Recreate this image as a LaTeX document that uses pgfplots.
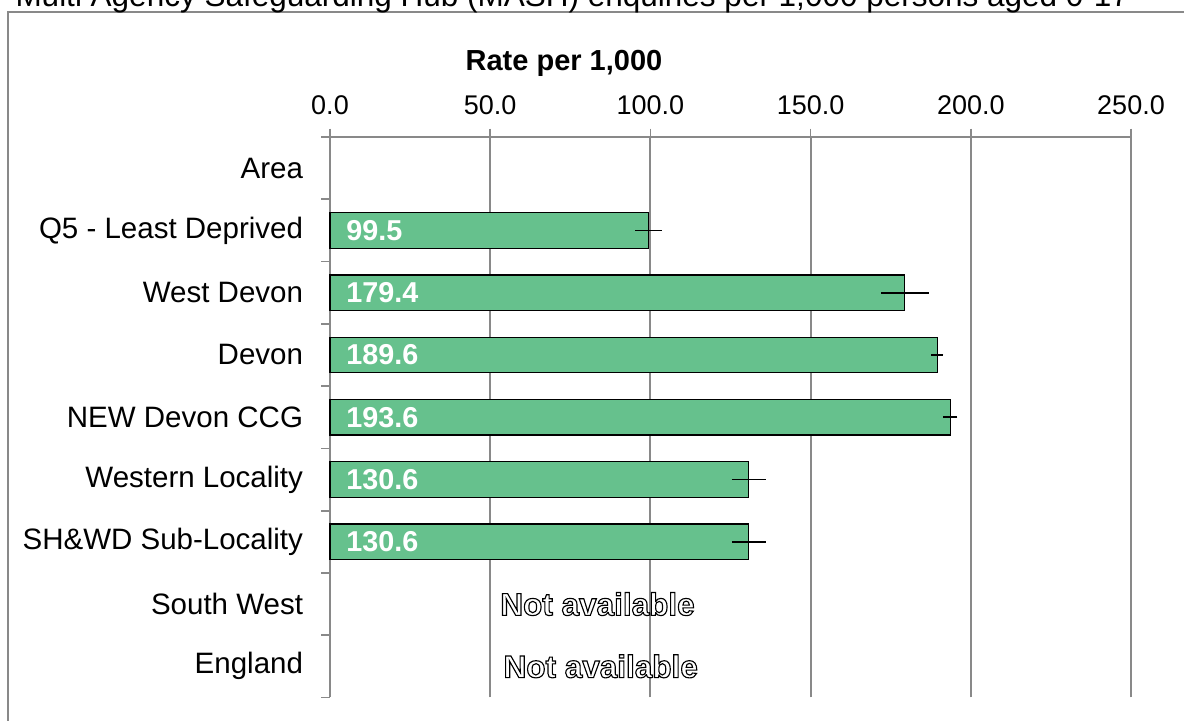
\documentclass[border=0pt]{standalone}
\usepackage{fontspec}
\setmainfont{Liberation Sans}
\usepackage{pgfplots}
\pgfplotsset{compat=1.18}
\usepackage{pgfplotstable}
\definecolor{bargreen}{RGB}{102,193,141}
\definecolor{axgray}{RGB}{137,137,137}
\def\s{0.4pt}
% outlined text: white fill, black stroke
\newcommand{\outl}[1]{\special{pdf:literal direct 0 0 0 RG 0.45 w 2 Tr}#1\special{pdf:literal direct 0 Tr}}

\pgfplotstableread{
idx val minus plus zero lab
7 99.5 4.3 4.1 0 99.5
6 179.4 7.4 7.6 0 179.4
5 189.6 2.0 1.8 0 189.6
4 193.6 2.2 2.2 0 193.6
3 130.6 5.2 5.4 0 130.6
2 130.6 5.2 5.4 0 130.6
}\rates

\begin{document}
\begin{tikzpicture}
\draw[axgray, line width=0.8pt] (8*\s,-12*\s) rectangle (1250*\s,-780*\s);
\node[anchor=base west, inner sep=0, font=\fontsize{12.6}{14}\selectfont] at (15*\s,-6*\s)
  {Multi Agency Safeguarding Hub (MASH) enquiries per 1,000 persons aged 0-17};
\node[anchor=base, inner sep=0, font=\fontsize{11.6}{13}\selectfont\bfseries] at (564*\s,-70*\s) {Rate per 1,000};
\begin{axis}[
  at={(330*\s,-137*\s)}, anchor=north west,
  scale only axis, width=801*\s, height=560.5*\s,
  xmin=0, xmax=250, ymin=-0.5, ymax=8.5,
  axis x line*=top, axis y line*=left,
  axis line style={axgray, line width=0.7pt, -},
  xtick={0,50,...,250},
  xmajorgrids, grid style={axgray, line width=0.8pt},
  tick align=outside, major tick length=8.5*\s,
  tick style={axgray, line width=0.7pt},
  ytick={-0.5,0.5,...,8.5},
  y tick label as interval,
  yticklabels={England,South West,SH\&WD Sub-Locality,Western Locality,NEW Devon CCG,Devon,West Devon,Q5 - Least Deprived,Area},
  yticklabel style={font=\fontsize{11.8}{13}\selectfont, inner sep=0, xshift=-18*\s},
  xticklabel style={font=\fontsize{10.8}{13}\selectfont, yshift=5*\s},
  /pgf/number format/.cd, fixed, fixed zerofill, precision=1, assume math mode=true,
  /pgfplots/.cd,
  clip=false,
]
\addplot[xbar, bar width=35.6*\s, fill=bargreen, draw=black, line width=0.5pt,
  error bars/.cd, x dir=both, x explicit, error mark=none,
  error bar style={black, line width=0.7pt}]
  table[x=val, y=idx, x error plus=plus, x error minus=minus]{\rates};
\addplot[draw=none, mark=none, nodes near coords, point meta=explicit symbolic,
  nodes near coords style={anchor=west, text=white, inner sep=0, xshift=16*\s,
    font=\fontsize{11.5}{13}\selectfont\bfseries}]
  table[x=zero, y=idx, meta=lab]{\rates};
\node[text=white, inner sep=0, font=\fontsize{12.6}{14}\selectfont\bfseries] at (axis cs:83.5,1) {\outl{Not available}};
\node[text=white, inner sep=0, font=\fontsize{12.6}{14}\selectfont\bfseries] at (axis cs:84.5,0) {\outl{Not available}};
\end{axis}
\pgfresetboundingbox
\useasboundingbox (0,0) rectangle (1184*\s,-720*\s);
\end{tikzpicture}
\end{document}
